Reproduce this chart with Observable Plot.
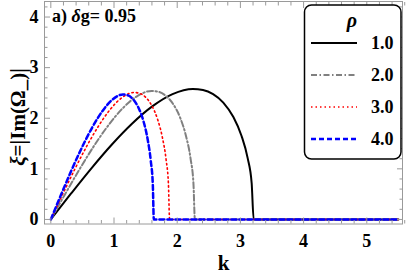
<!DOCTYPE html>
<html><head><meta charset="utf-8">
<script src="https://cdn.jsdelivr.net/npm/d3@7"></script>
<script src="https://cdn.jsdelivr.net/npm/@observablehq/plot@0.6"></script>
<style>
body{margin:0;background:#fff;}
#c{position:relative;width:407px;height:279px;font-family:"Liberation Serif";font-weight:bold;}
#c svg, #c svg text{font-family:"Liberation Serif" !important;}
.ov{position:absolute;white-space:nowrap;color:#000;font-family:"Liberation Serif";font-weight:bold;}
</style>
</head><body><div id="c"></div>
<script>
// series labels (rho)
const rhoLabels = ["1.0", "2.0", "3.0", "4.0"];
// rho = 1.0
const k1  = [0, 0.321, 0.642, 0.963, 1.284, 1.605, 1.926, 2.247, 2.408, 2.568, 2.729, 2.889, 3.017, 3.114, 3.178, 3.21, 5.5];
const xi1 = [0, 0.513, 1.011, 1.477, 1.892, 2.234, 2.477, 2.579, 2.560, 2.477, 2.310, 2.024, 1.655, 1.217, 0.721, 0, 0];
// rho = 2.0
const k2  = [0, 0.228, 0.456, 0.684, 0.912, 1.14, 1.368, 1.596, 1.71, 1.824, 1.938, 2.052, 2.143, 2.212, 2.257, 2.28, 5.5];
const xi2 = [0, 0.505, 0.995, 1.454, 1.862, 2.200, 2.438, 2.540, 2.520, 2.438, 2.275, 1.993, 1.629, 1.198, 0.709, 0, 0];
// rho = 3.0
const k3  = [0, 0.188, 0.376, 0.564, 0.752, 0.94, 1.128, 1.316, 1.41, 1.504, 1.598, 1.692, 1.767, 1.824, 1.861, 1.88, 5.5];
const xi3 = [0, 0.499, 0.984, 1.437, 1.840, 2.174, 2.410, 2.509, 2.490, 2.410, 2.248, 1.969, 1.610, 1.184, 0.701, 0, 0];
// rho = 4.0
const k4  = [0, 0.163, 0.326, 0.489, 0.652, 0.815, 0.978, 1.141, 1.2225, 1.304, 1.3855, 1.467, 1.532, 1.581, 1.614, 1.63, 5.5];
const xi4 = [0, 0.492, 0.968, 1.414, 1.811, 2.139, 2.371, 2.470, 2.451, 2.371, 2.212, 1.938, 1.584, 1.165, 0.690, 0, 0];
// tick labels
const xTicks = [0, 1, 2, 3, 4, 5];
const yTicks = [0, 1, 2, 3, 4];

const seriesK = [k1, k2, k3, k4];
const seriesXi = [xi1, xi2, xi3, xi4];
const styles = [
  {stroke: "#000000", strokeWidth: 2, strokeDasharray: null},
  {stroke: "#808080", strokeWidth: 2, strokeDasharray: "6,2.5,1.5,2.5"},
  {stroke: "#ff0000", strokeWidth: 1.6, strokeDasharray: "1.5,3"},
  {stroke: "#0000ff", strokeWidth: 2.5, strokeDasharray: "5,3"}
];

const series = rhoLabels.map((r, i) => seriesK[i].map((k, j) => ({rho: r, k, xi: seriesXi[i][j]})));

const xMinor = d3.range(0, 5.61, 0.2).map(v => +v.toFixed(1)).filter(v => !xTicks.includes(v));
const yMinor = d3.range(0, 4.31, 0.2).map(v => +v.toFixed(1)).filter(v => !yTicks.includes(v));
const tickColor = "#9a9a9a";
const fmt = d => String(d);
const FONT = "Liberation Serif";

const tickMarks = [];
for (const a of ["bottom", "top"]) {
  tickMarks.push(Plot.axisX({anchor: a, ticks: xTicks, tickSize: -6, tickFormat: () => "", label: null, stroke: tickColor}));
  tickMarks.push(Plot.axisX({anchor: a, ticks: xMinor, tickSize: -3.5, tickFormat: () => "", label: null, stroke: tickColor}));
}
for (const a of ["left", "right"]) {
  tickMarks.push(Plot.axisY({anchor: a, ticks: yTicks, tickSize: -6, tickFormat: () => "", label: null, stroke: tickColor}));
  tickMarks.push(Plot.axisY({anchor: a, ticks: yMinor, tickSize: -3.5, tickFormat: () => "", label: null, stroke: tickColor}));
}

const chart = Plot.plot({
  width: 407,
  height: 279,
  marginLeft: 44,
  marginRight: 5,
  marginTop: 1,
  marginBottom: 55.5,
  style: {fontFamily: FONT, fontWeight: "bold", fontSize: "18px", background: "#fff", color: "#000"},
  x: {domain: [-0.1, 5.565]},
  y: {domain: [-0.09, 4.307]},
  marks: [
    ...series.map((d, i) => Plot.line(d, {x: "k", y: "xi", curve: "monotone-x", ...styles[i]})),
    ...tickMarks,
    Plot.axisX({anchor: "bottom", ticks: xTicks, tickFormat: fmt, tickSize: 0, tickPadding: 10, label: null, fill: "#000", fontFamily: FONT}),
    Plot.axisY({anchor: "left", ticks: yTicks, tickFormat: fmt, tickSize: 0, tickPadding: 6, label: null, fill: "#000", fontFamily: FONT}),
    Plot.text(["k"], {frameAnchor: "bottom", dy: 46, fontSize: 21, fontWeight: "bold", fill: "#000", fontFamily: FONT}),
    Plot.frame({stroke: tickColor, strokeWidth: 1})
  ]
});

const c = document.getElementById("c");
c.appendChild(chart);

// title
const t = document.createElement("div");
t.className = "ov";
t.style.cssText = "left:52px;top:6px;font-size:18px;line-height:20px;";
t.innerHTML = "a) <i>δ</i>g= 0.95";
c.appendChild(t);

// y label
const yl = document.createElement("div");
yl.className = "ov";
yl.style.cssText = "left:18px;top:117px;font-size:21px;line-height:22px;transform:translate(-50%,-50%) rotate(-90deg);";
yl.innerHTML = "<i>ξ</i>=|Im(Ω_)|";
c.appendChild(yl);

// legend
const lg = d3.select(c).append("svg")
  .attr("width", 100).attr("height", 158)
  .style("position", "absolute").style("left", "303px").style("top", "3px");
lg.append("rect").attr("x", 1.5).attr("y", 2).attr("width", 96.5).attr("height", 154)
  .attr("rx", 7).attr("fill", "#fff").attr("stroke", "#000").attr("stroke-width", 1.5);
lg.append("text").attr("x", 49).attr("y", 17).attr("text-anchor", "middle").attr("dy", "0.35em")
  .attr("font-family", FONT).attr("font-weight", "bold")
  .attr("font-size", 20).attr("font-style", "italic").text("ρ");
rhoLabels.forEach((r, i) => {
  const y = 40 + i * 32;
  const s = styles[i];
  lg.append("line").attr("x1", 8).attr("x2", 54).attr("y1", y).attr("y2", y)
    .attr("stroke", s.stroke).attr("stroke-width", s.strokeWidth)
    .attr("stroke-dasharray", s.strokeDasharray);
  lg.append("text").attr("x", 68).attr("y", y).attr("dy", "0.35em")
    .attr("font-family", FONT).attr("font-weight", "bold").attr("font-size", 18).text(r);
});
</script>
</body></html>
